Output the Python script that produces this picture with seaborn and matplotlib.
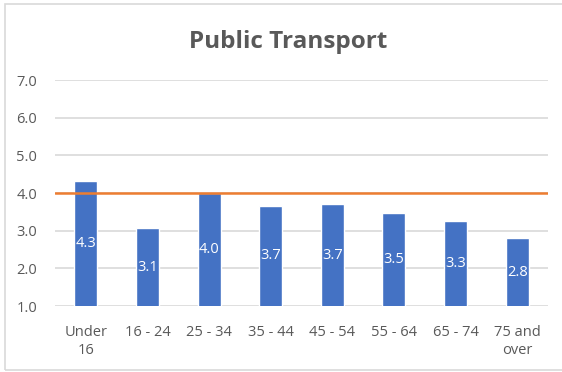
import matplotlib
matplotlib.use("Agg")
import matplotlib.pyplot as plt
import seaborn as sns
import pandas as pd
from matplotlib.patches import Rectangle

categories = ["Under\n16", "16 - 24", "25 - 34", "35 - 44", "45 - 54", "55 - 64", "65 - 74", "75 and\nover"]
values = [4.32, 3.06, 3.99, 3.66, 3.70, 3.47, 3.26, 2.80]
target = 4.0
y_ticks = [1.0, 2.0, 3.0, 4.0, 5.0, 6.0, 7.0]

df = pd.DataFrame({"group": categories, "score": values})

sns.set_theme(style="white")
plt.rcParams["font.family"] = ["Open Sans", "DejaVu Sans"]

W, H = 562, 372
fig = plt.figure(figsize=(W / 100, H / 100), dpi=100)
ax = fig.add_axes([55 / W, 1 - 306 / H, (548 - 55) / W, (306 - 80) / H])

sns.barplot(data=df, x="group", y="score", color="#4472C4", width=0.375,
            saturation=1, ax=ax, zorder=3)

ax.set_ylim(1.0, 7.0)
ax.set_xlim(-0.5, len(categories) - 0.5)
ax.set_yticks(y_ticks)
ax.set_yticklabels([f"{t:.1f}" for t in y_ticks], color="#595959", fontsize=10.5)
ax.set_xticks(range(len(categories)))
ax.set_xticklabels(categories, color="#595959", fontsize=10.5, linespacing=1.25)
ax.tick_params(axis="x", length=0, pad=14)
ax.tick_params(axis="y", length=0, pad=13)
ax.set_xlabel("")
ax.set_ylabel("")

for t in y_ticks:
    ax.axhline(t, color="#D9D9D9", lw=1.2, zorder=1)
for s in ax.spines.values():
    s.set_visible(False)

ax.axhline(target, color="#ED7D31", lw=1.8, zorder=4)

for i, v in enumerate(values):
    ax.text(i, (1.0 + v) / 2, f"{v:.1f}", ha="center", va="center",
            color="white", fontsize=10.5, zorder=5)

fig.text(288 / W, 1 - 42 / H, "Public Transport", ha="center", va="center",
         fontsize=17.5, fontweight="bold", color="#595959")

fig.patches.append(Rectangle((5 / W, 1 - 370 / H), 600 / W, 366 / H,
                             transform=fig.transFigure, fill=False,
                             edgecolor="#D9D9D9", lw=1.2))

fig.savefig("out.png", dpi=100)
